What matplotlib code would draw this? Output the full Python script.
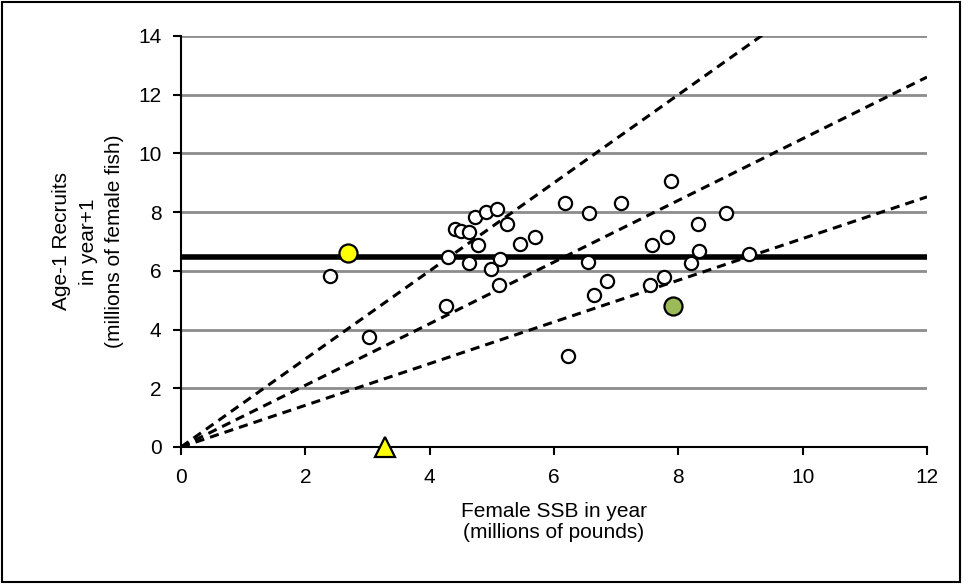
import matplotlib
matplotlib.use("Agg")
import matplotlib.pyplot as plt
import numpy as np

plt.rcParams['font.family'] = ['Liberation Sans', 'DejaVu Sans']

# female SSB (millions of pounds) and age-1 recruits (millions of female fish)
ssb = [2.39, 3.02, 4.27, 4.30, 4.40, 4.50, 4.63, 4.63, 4.73, 4.77, 4.91, 4.99,
       5.08, 5.12, 5.13, 5.24, 5.45, 5.69, 6.17, 6.22, 6.54, 6.56, 6.65, 6.85,
       7.08, 7.55, 7.57, 7.77, 7.82, 7.88, 8.20, 8.31, 8.33, 8.77, 9.14]
recruits = [5.84, 3.74, 4.80, 6.46, 7.41, 7.37, 7.32, 6.28, 7.84, 6.88, 8.01, 6.05,
            8.11, 5.53, 6.41, 7.60, 6.92, 7.14, 8.30, 3.09, 6.31, 7.98, 5.18, 5.66,
            8.32, 5.52, 6.88, 5.78, 7.14, 9.07, 6.26, 7.60, 6.69, 7.98, 6.57]

yellow_pt = (2.68, 6.60)
green_pt = (7.91, 4.81)
triangle_pt = (3.28, 0.0)

mean_recruits = 6.47
slopes = [1.5, 1.05, 0.71]

fig = plt.figure(figsize=(9.63, 5.84), dpi=100)
ax = fig.add_axes([0.188, 0.2346, 0.7746, 0.7038])

ax.set_xlim(0, 12)
ax.set_ylim(0, 14)
ax.set_xticks(range(0, 13, 2))
ax.set_yticks(range(0, 15, 2))
ax.yaxis.grid(True, color='#8c8c8c', lw=2)
ax.set_axisbelow(True)

for s in ['top', 'right']:
    ax.spines[s].set_visible(False)
for s in ['left', 'bottom']:
    ax.spines[s].set_linewidth(1.5)
ax.tick_params(direction='out', length=6, width=1.5, labelsize=15)
ax.tick_params(axis='y', pad=8)
ax.tick_params(axis='x', pad=9)

xs = np.array([0, 12])
for k in slopes:
    ax.plot(xs, k * xs, color='black', lw=2.2, ls=(0, (3, 2)), zorder=3)

ax.axhline(mean_recruits, color='black', lw=4, zorder=3)

ax.plot(ssb, recruits, 'o', ms=9.5, mfc='white', mec='black', mew=1.6, zorder=4, clip_on=False)
ax.plot(*yellow_pt, 'o', ms=13, mfc='#ffff00', mec='black', mew=1.6, zorder=5)
ax.plot(*green_pt, 'o', ms=13, mfc='#9bbb59', mec='black', mew=1.6, zorder=5)
ax.plot(*triangle_pt, '^', ms=14, mfc='#ffff00', mec='black', mew=1.6, zorder=5, clip_on=False)

ax.set_xlabel('Female SSB in year\n(millions of pounds)', fontsize=15, labelpad=11, linespacing=1.15)
ax.set_ylabel('Age-1 Recruits\nin year+1\n(millions of female fish)', fontsize=15, labelpad=10,
              linespacing=1.5)

fig.patches.append(plt.Rectangle((0.002, 0.003), 0.995, 0.994, transform=fig.transFigure,
                                 fill=False, edgecolor='black', lw=1.5))

fig.savefig('out.png', dpi=100)
